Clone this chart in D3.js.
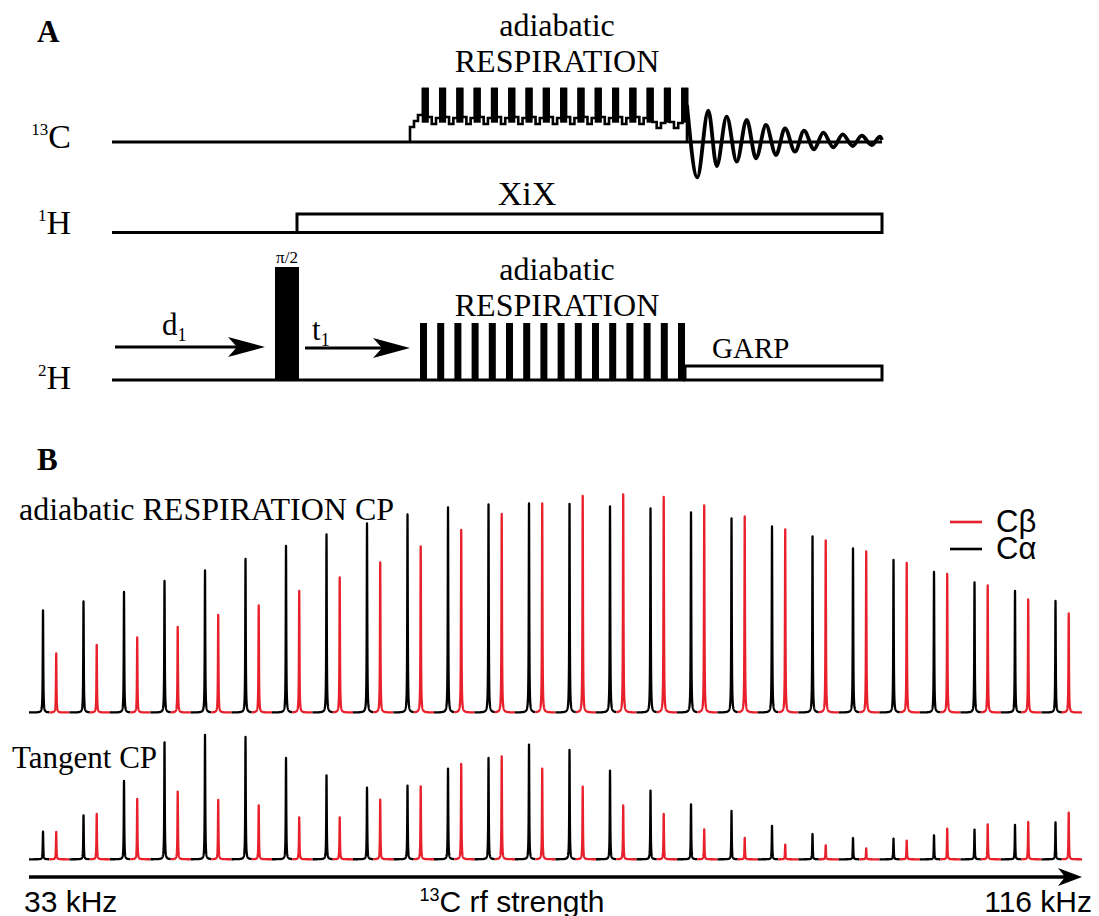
<!DOCTYPE html>
<html>
<head>
<meta charset="utf-8">
<script src="https://cdn.jsdelivr.net/npm/d3@7"></script>
<style>
  body { margin: 0; background: #fff; }
  svg { display: block; }
</style>
</head>
<body>
<script>
// ---- Panel B data: peak intensities (a.u.) per 13C rf-strength step, 33 -> 116 kHz ----
const respCa = [102, 111, 120.5, 131.5, 142, 153.5, 166.5, 178, 189, 198, 205, 208, 209,
                208.5, 206, 204, 200, 194, 186, 176, 164, 152.5, 140.5, 130, 121.5, 111.5];
const respCb = [59, 67.5, 75, 85.5, 97.5, 107, 121.5, 135, 150, 166, 182.5, 198.5, 209,
                216.5, 218, 215.5, 207, 196, 183, 172, 161, 149.5, 138.5, 127, 113, 99];
const tanCa  = [27.7, 44, 78.3, 117, 124.3, 122.3, 101.3, 84, 71.7, 73.7, 90.7, 101.3, 114.7,
                109.3, 88.7, 68.7, 55, 48.3, 33.3, 25.3, 21.3, 20.7, 24, 29.7, 34.3, 37];
const tanCb  = [27.3, 45.3, 60.3, 67.7, 59.3, 54, 42, 42, 59.7, 73, 95.3, 103, 90.7,
                72.7, 54, 45.3, 30, 21.3, 14.7, 14, 11, 18.7, 30.7, 35, 37.3, 46.7];
const rfRange = ["33 kHz", "116 kHz"];
const panelTitles = ["adiabatic RESPIRATION CP", "Tangent CP"];
const legendItems = ["Cβ", "Cα"];

// ---- Panel A: pulse-sequence timing (arbitrary time units) ----
const seqEnd = 770;
const d1Span = [3, 153];
const piHalf = [163, 187];
const xixStart = 185;
const t1Span = [193, 298];
const c13Block = [298, 576];
const respPulses = 16;          // pulses per RESPIRATION train
const c13PulseStart = 311, c13Period = 17.3, c13PulseWidth = 4.5;
const h2PulseStart = 308, h2Period = 17.2, h2PulseWidth = 7;
const garpStart = 573;
// free induction decay extrema: [time, amplitude]
const fidExtrema = [[575, 37], [585.3, -35.3], [596.3, 31.3], [604.7, -24], [614.7, 25.3],
  [624.7, -19.7], [634.7, 22], [644, -16.3], [654, 17], [664, -13], [673, 13.7], [683, -9.7],
  [692, 11.3], [702, -7.3], [711.3, 9.3], [721.3, -5.3], [730.7, 7.7], [740.7, -4],
  [749.7, 6.3], [759.7, -3], [768, 5.3], [770, 2]];

const serif = "'Liberation Serif','Times New Roman',serif";
const sans = "'Liberation Sans',Arial,sans-serif";
const RED = "#e8202b";

const svg = d3.select("body").append("svg")
  .attr("width", 1099).attr("height", 916)
  .attr("viewBox", "0 0 1099 916");

// ================= Panel A =================
const A = svg.append("g");
const t = d3.scaleLinear().domain([0, seqEnd]).range([112, 882]);
const amp = d3.scaleLinear().domain([0, 60]).range([0, 60]);
const yC = 142, yH = 232.5, yD = 380;
const lw = 3;

A.append("text").text("A").attr("x", 37).attr("y", 42)
  .attr("font-family", serif).attr("font-weight", "bold").attr("font-size", 31);

// channel labels
function chanLabel(sup, el, y) {
  const tx = A.append("text").attr("x", 71).attr("y", y).attr("text-anchor", "end")
    .attr("font-family", serif);
  tx.append("tspan").text(sup).attr("font-size", 17).attr("dy", -13);
  tx.append("tspan").text(el).attr("font-size", 34).attr("dy", 13);
}
chanLabel("13", "C", yC + 6);
chanLabel("1", "H", yH + 1);
chanLabel("2", "H", yD + 9);

// 13C channel baseline
A.append("line").attr("x1", t(0)).attr("x2", t(seqEnd)).attr("y1", yC).attr("y2", yC)
  .attr("stroke", "#000").attr("stroke-width", lw);

// 13C adiabatic RESPIRATION train: stepped envelope plus solid pulses
{
  const p = d3.path();
  const y = a => yC - amp(a);
  p.moveTo(t(c13Block[0]), yC);
  p.lineTo(t(c13Block[0]), y(15));
  p.lineTo(t(c13Block[0] + 4), y(15));
  p.lineTo(t(c13Block[0] + 4), y(21));
  p.lineTo(t(c13Block[0] + 8), y(21));
  p.lineTo(t(c13Block[0] + 8), y(27));
  for (let k = 0; k < respPulses; k++) {
    const s = c13PulseStart + k * c13Period;
    p.lineTo(t(s), y(27));
    p.lineTo(t(s), y(53));
    p.lineTo(t(s + c13PulseWidth), y(53));
    if (k === respPulses - 1) { p.lineTo(t(s + c13PulseWidth), yC); break; }
    const g = c13Period - c13PulseWidth;
    const lo = k >= respPulses - 3 ? [20, 14, 19] : [25, 18, 24];
    p.lineTo(t(s + c13PulseWidth), y(lo[0]));
    p.lineTo(t(s + c13PulseWidth + g / 3), y(lo[0]));
    p.lineTo(t(s + c13PulseWidth + g / 3), y(lo[1]));
    p.lineTo(t(s + c13PulseWidth + 2 * g / 3), y(lo[1]));
    p.lineTo(t(s + c13PulseWidth + 2 * g / 3), y(lo[2]));
    p.lineTo(t(s + c13Period), y(lo[2]));
    p.lineTo(t(s + c13Period), y(27));
  }
  A.append("path").attr("d", p.toString()).attr("fill", "none")
    .attr("stroke", "#000").attr("stroke-width", 2.6).attr("stroke-linejoin", "miter");
  for (let k = 0; k < respPulses; k++) {
    const s = c13PulseStart + k * c13Period;
    A.append("rect").attr("x", t(s) - 1.3).attr("y", y(53) - 1.3)
      .attr("width", t(s + c13PulseWidth) - t(s) + 2.6).attr("height", amp(53 - 18))
      .attr("fill", "#000");
  }
}

// free induction decay
A.append("path")
  .attr("d", d3.line().x(d => t(d[0])).y(d => yC - amp(d[1])).curve(d3.curveMonotoneX)(fidExtrema))
  .attr("fill", "none").attr("stroke", "#000").attr("stroke-width", 3.8);

// 1H channel: baseline then XiX decoupling block
A.append("line").attr("x1", t(0)).attr("x2", t(xixStart)).attr("y1", yH).attr("y2", yH)
  .attr("stroke", "#000").attr("stroke-width", lw);
A.append("rect").attr("x", t(xixStart)).attr("y", yH - 18.5)
  .attr("width", t(seqEnd) - t(xixStart)).attr("height", 18.5)
  .attr("fill", "none").attr("stroke", "#000").attr("stroke-width", lw);

// 2H channel
A.append("line").attr("x1", t(0)).attr("x2", t(garpStart)).attr("y1", yD).attr("y2", yD)
  .attr("stroke", "#000").attr("stroke-width", lw);
A.append("rect").attr("x", t(piHalf[0])).attr("y", yD - 113)
  .attr("width", t(piHalf[1]) - t(piHalf[0])).attr("height", 113).attr("fill", "#000");
for (let k = 0; k < respPulses; k++) {
  const s = h2PulseStart + k * h2Period;
  A.append("rect").attr("x", t(s)).attr("y", yD - 57)
    .attr("width", t(s + h2PulseWidth) - t(s)).attr("height", 57).attr("fill", "#000");
}
A.append("rect").attr("x", t(garpStart)).attr("y", yD - 14)
  .attr("width", t(seqEnd) - t(garpStart)).attr("height", 14)
  .attr("fill", "none").attr("stroke", "#000").attr("stroke-width", lw);

// delay arrows
function arrow(span, y) {
  const x0 = t(span[0]), x1 = t(span[1]);
  A.append("line").attr("x1", x0).attr("x2", x1 - 12).attr("y1", y).attr("y2", y)
    .attr("stroke", "#000").attr("stroke-width", lw);
  A.append("path").attr("d", `M${x1},${y} L${x1 - 37},${y - 10} L${x1 - 28},${y} L${x1 - 37},${y + 10} Z`)
    .attr("fill", "#000");
}
arrow(d1Span, 347);
arrow(t1Span, 348);

function subLabel(main, sub, x, y) {
  const tx = A.append("text").attr("x", x).attr("y", y).attr("font-family", serif);
  tx.append("tspan").text(main).attr("font-size", 31);
  tx.append("tspan").text(sub).attr("font-size", 18).attr("dy", 6);
}
subLabel("d", "1", 162, 335);
subLabel("t", "1", 312, 340);

A.append("text").text("π/2").attr("x", (t(piHalf[0]) + t(piHalf[1])) / 2).attr("y", 263)
  .attr("text-anchor", "middle").attr("font-family", serif).attr("font-size", 17);

function centered(txt, x, y, size) {
  A.append("text").text(txt).attr("x", x).attr("y", y).attr("text-anchor", "middle")
    .attr("font-family", serif).attr("font-size", size);
}
centered("adiabatic", 557, 36, 32);
centered("RESPIRATION", 557, 72, 32);
centered("XiX", 527, 205, 34);
centered("adiabatic", 557, 280, 32);
centered("RESPIRATION", 557, 316, 32);
A.append("text").text("GARP").attr("x", 712).attr("y", 358)
  .attr("font-family", serif).attr("font-size", 29);

// ================= Panel B =================
const B = svg.append("g");
B.append("text").text("B").attr("x", 37).attr("y", 470)
  .attr("font-family", serif).attr("font-weight", "bold").attr("font-size", 31);

const stepX = d3.scaleLinear().domain([0, respCa.length]).range([29, 1082]);
const inten = d3.scaleLinear().domain([0, 220]).range([0, 220]);
const strips = [
  { from: 0,   to: 0.5, peak: 0.346, color: "#000" },
  { from: 0.5, to: 1,   peak: 0.672, color: RED }
];
const gamma = 0.28;
const lineGen = d3.line();

function stripPath(i, s, value, base) {
  const x0 = stepX(i + s.from), x1 = stepX(i + s.to), xp = stepX(i + s.peak);
  const xs = d3.range(x0, x1, 0.1).concat([xp, x1]).sort((a, b) => a - b);
  return lineGen(xs.map(px =>
    [px, base - inten(value * gamma * gamma / ((px - xp) ** 2 + gamma * gamma))]));
}

const panels = [
  { title: panelTitles[0], ca: respCa, cb: respCb, base: 712.5, tx: 19, ty: 520, fs: 32 },
  { title: panelTitles[1], ca: tanCa,  cb: tanCb,  base: 859.3, tx: 12, ty: 768, fs: 31 }
];
panels.forEach(pn => {
  const g = B.append("g");
  pn.ca.forEach((v, i) => {
    g.append("path").attr("d", stripPath(i, strips[0], v, pn.base))
      .attr("fill", "none").attr("stroke", strips[0].color).attr("stroke-width", 2.3)
      .attr("stroke-linejoin", "round");
    g.append("path").attr("d", stripPath(i, strips[1], pn.cb[i], pn.base))
      .attr("fill", "none").attr("stroke", strips[1].color).attr("stroke-width", 2.3)
      .attr("stroke-linejoin", "round");
  });
  B.append("text").text(pn.title).attr("x", pn.tx).attr("y", pn.ty)
    .attr("font-family", serif).attr("font-size", pn.fs);
});

// legend
[RED, "#000"].forEach((c, k) => {
  const y = 522 + k * 27;
  B.append("line").attr("x1", 950).attr("x2", 982).attr("y1", y).attr("y2", y)
    .attr("stroke", c).attr("stroke-width", 2.6);
  B.append("text").text(legendItems[k]).attr("x", 996).attr("y", y + 10)
    .attr("font-family", sans).attr("font-size", 31);
});

// rf-strength axis arrow
const axY = 877;
B.append("line").attr("x1", stepX(0)).attr("x2", stepX(respCa.length) - 14)
  .attr("y1", axY).attr("y2", axY).attr("stroke", "#000").attr("stroke-width", 3.5);
{
  const xe = stepX(respCa.length);
  B.append("path").attr("d", `M${xe},${axY} L${xe - 24},${axY - 9} L${xe - 17},${axY} L${xe - 24},${axY + 9} Z`)
    .attr("fill", "#000");
}
B.append("text").text(rfRange[0]).attr("x", 24).attr("y", 911.5)
  .attr("font-family", sans).attr("font-size", 30);
B.append("text").text(rfRange[1]).attr("x", 1092).attr("y", 911.5).attr("text-anchor", "end")
  .attr("font-family", sans).attr("font-size", 30);
{
  const tx = B.append("text").attr("x", 512).attr("y", 911.5).attr("text-anchor", "middle")
    .attr("font-family", sans);
  tx.append("tspan").text("13").attr("font-size", 18).attr("dy", -11);
  tx.append("tspan").text("C rf strength").attr("font-size", 30).attr("dy", 11);
}
</script>
</body>
</html>
